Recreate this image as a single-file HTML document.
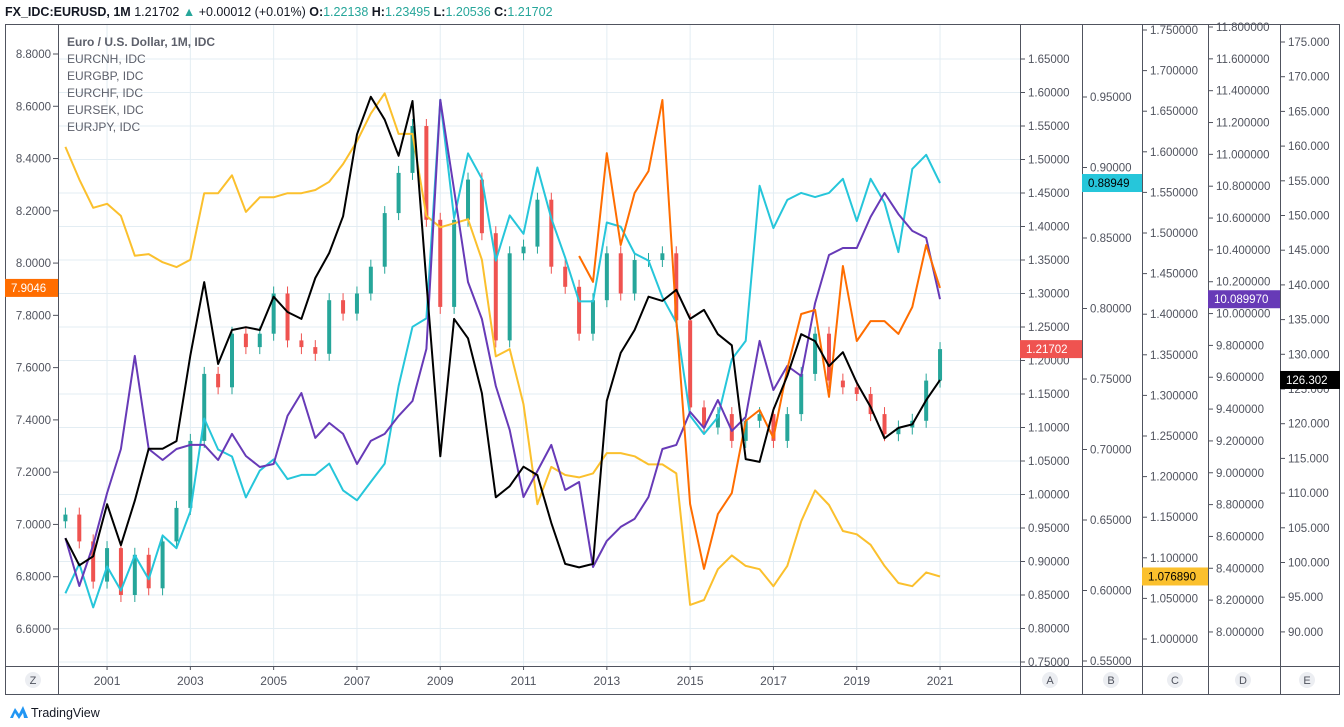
<!DOCTYPE html>
<html><head><meta charset="utf-8"><style>
html,body{margin:0;padding:0;background:#fff;width:1344px;height:727px;overflow:hidden}
svg{display:block;font-family:"Liberation Sans",Arial,sans-serif}
</style></head><body>
<svg id="chart" width="1344" height="727" viewBox="0 0 1344 727">
<text x="5" y="16" font-size="12.5" fill="#131722"><tspan font-weight="bold">FX_IDC:EURUSD, 1M</tspan> 1.21702 <tspan fill="#26a69a">▲</tspan> +0.00012 (+0.01%) <tspan font-weight="bold">O:</tspan><tspan fill="#26a69a">1.22138</tspan> <tspan font-weight="bold">H:</tspan><tspan fill="#26a69a">1.23495</tspan> <tspan font-weight="bold">L:</tspan><tspan fill="#26a69a">1.20536</tspan> <tspan font-weight="bold">C:</tspan><tspan fill="#26a69a">1.21702</tspan></text>
<g id="grid"></g>
<g id="series" clip-path="url(#plotclip)"></g>
<defs><clipPath id="plotclip"><rect x="58" y="24" width="962" height="642"/></clipPath></defs>
<g id="frame" fill="none" stroke="#50535e" stroke-width="1">
<rect x="5.5" y="24.5" width="1334" height="670"/>
<line x1="58.5" y1="24" x2="58.5" y2="694"/>
<line x1="1020.5" y1="24" x2="1020.5" y2="694"/>
<line x1="1082.5" y1="24" x2="1082.5" y2="694"/>
<line x1="1142.5" y1="24" x2="1142.5" y2="694"/>
<line x1="1208.5" y1="24" x2="1208.5" y2="694"/>
<line x1="1280.5" y1="24" x2="1280.5" y2="694"/>
<line x1="5" y1="666.5" x2="1340" y2="666.5"/>
</g>
<g id="axes"></g>
<g font-size="12" fill="#5d606b">
<text x="67" y="46" font-weight="bold">Euro / U.S. Dollar, 1M, IDC</text>
<text x="67" y="63">EURCNH, IDC</text>
<text x="67" y="80">EURGBP, IDC</text>
<text x="67" y="97">EURCHF, IDC</text>
<text x="67" y="114">EURSEK, IDC</text>
<text x="67" y="131">EURJPY, IDC</text>
</g>
<g>
<path d="M10 718 L15 708 L19 714 L23 706 L28 718 L24 718 L23 713 L19 719 L15 713 L13 718Z" fill="#2196f3"/>
<text x="31" y="717" font-size="12.5" fill="#131722">TradingView</text>
</g>
</svg>
<script>
const startYear = 2000;
const stepYears = 1/3;
const eurusdClose = [0.97,0.93,0.87, 0.92,0.85,0.91, 0.86,0.93,0.98, 1.08,1.18,1.16, 1.24,1.22,1.24, 1.30,1.23,1.22, 1.21,1.29,1.27, 1.30,1.34,1.42, 1.48,1.55,1.41, 1.28,1.41,1.47, 1.39,1.23,1.36, 1.37,1.44,1.34, 1.31,1.24,1.29, 1.36,1.30,1.35, 1.35,1.36,1.26, 1.13,1.10,1.12, 1.08,1.11,1.12, 1.08,1.12,1.18, 1.24,1.17,1.16, 1.15,1.12,1.09, 1.10,1.11,1.17, 1.217];
const eurchf = [1.606,1.566,1.531,1.536,1.521,1.472,1.474,1.464,1.458,1.467,1.549,1.549,1.571,1.526,1.544,1.544,1.549,1.549,1.553,1.563,1.585,1.613,1.647,1.672,1.622,1.622,1.521,1.507,1.512,1.517,1.467,1.348,1.357,1.289,1.166,1.212,1.202,1.199,1.204,1.229,1.229,1.225,1.215,1.215,1.204,1.042,1.048,1.086,1.103,1.090,1.086,1.065,1.090,1.145,1.183,1.165,1.133,1.129,1.116,1.090,1.069,1.065,1.082,1.077];
const eurjpy = [103.5,99.6,100.9,108.4,102.5,108.9,116.4,116.4,117.5,129.8,140.4,128.6,133.5,133.9,133.5,138.3,136.1,135.1,141.0,144.6,149.9,161.7,167.1,163.8,158.6,166.5,140.4,115.3,135.1,132.3,124.4,109.4,111.0,113.8,112.6,105.7,99.8,99.3,99.8,123.3,130.2,133.5,138.3,137.7,139.3,135.1,136.4,132.9,131.3,114.9,114.5,122.0,126.9,132.9,131.9,128.3,130.3,125.9,122.4,117.9,119.4,119.9,123.4,126.3];
const eursek = [8.590,8.289,8.546,8.873,9.149,9.734,9.149,9.080,9.149,9.175,9.175,9.080,9.244,9.105,9.036,9.055,9.357,9.501,9.219,9.313,9.244,9.055,9.200,9.244,9.357,9.451,9.778,11.342,10.776,10.198,9.966,9.545,9.269,8.848,9.011,9.175,8.892,8.942,8.408,8.572,8.660,8.710,8.848,9.149,9.175,9.382,9.281,9.457,9.263,9.350,9.828,9.520,9.671,9.608,10.066,10.368,10.412,10.412,10.607,10.757,10.625,10.519,10.475,10.090];
const eurgbp = [0.598,0.619,0.588,0.617,0.600,0.625,0.608,0.639,0.630,0.656,0.722,0.700,0.695,0.666,0.685,0.693,0.679,0.682,0.682,0.690,0.671,0.664,0.677,0.690,0.745,0.787,0.793,0.948,0.864,0.910,0.892,0.834,0.866,0.853,0.900,0.864,0.836,0.805,0.805,0.861,0.858,0.839,0.834,0.808,0.790,0.724,0.711,0.723,0.764,0.777,0.887,0.857,0.877,0.882,0.879,0.882,0.892,0.862,0.892,0.875,0.840,0.899,0.909,0.889];
const eurcnhStartIndex = 37;
const eurcnh = [8.027,7.928,8.421,8.069,8.268,8.352,8.624,7.786,7.078,6.830,7.040,7.120,7.396,7.438,7.331,7.595,7.805,7.821,7.488,7.989,7.702,7.778,7.778,7.729,7.832,8.069,7.905];
const yearLabels = [2001,2003,2005,2007,2009,2011,2013,2015,2017,2019,2021];
const leftTicks = [8.8,8.6,8.4,8.2,8.0,7.8,7.6,7.4,7.2,7.0,6.8,6.6];
const aTicks = [1.65,1.60,1.55,1.50,1.45,1.40,1.35,1.30,1.25,1.20,1.15,1.10,1.05,1.00,0.95,0.90,0.85,0.80,0.75];
const bTicks = [0.95,0.90,0.85,0.80,0.75,0.70,0.65,0.60,0.55];
const cTicks = [1.75,1.70,1.65,1.60,1.55,1.50,1.45,1.40,1.35,1.30,1.25,1.20,1.15,1.10,1.05,1.00];
const dTicks = [11.8,11.6,11.4,11.2,11.0,10.8,10.6,10.4,10.2,10.0,9.8,9.6,9.4,9.2,9.0,8.8,8.6,8.4,8.2,8.0];
const eTicks = [175,170,165,160,155,150,145,140,135,130,125,120,115,110,105,100,95,90];

const xYear = t => 65.4 + (t - startYear) * 41.65;
const xIdx = i => xYear(startYear + i * stepYears);
const yL = v => 54 + (8.8 - v) / 0.2 * 52.27;
const yA = v => 59 + (1.65 - v) / 0.05 * 33.5;
const yB = v => 97 + (0.95 - v) / 0.05 * 70.5;
const yC = v => 30 + (1.75 - v) / 0.05 * 40.6;
const yD = v => 27 + (11.8 - v) / 0.2 * 31.84;
const yE = v => 42 + (175 - v) / 5 * 34.7;

const NS = "http://www.w3.org/2000/svg";
function mk(tag, parent, attrs){ const e=document.createElementNS(NS,tag); for(const k in attrs) e.setAttribute(k,attrs[k]); parent.appendChild(e); return e; }

const grid = document.getElementById('grid');
aTicks.forEach(v=>{ const l=mk('line',grid,{x1:58,x2:1020,y1:yA(v),y2:yA(v),stroke:'#e3edf3','stroke-width':1});
  
   });
yearLabels.forEach(y=>{ const l=mk('line',grid,{x1:xYear(y),x2:xYear(y),y1:24,y2:666,stroke:'#e3edf3','stroke-width':1});
  
   });

const series = document.getElementById('series');
const upC='#26a69a', dnC='#ef5350';
for(let i=0;i<eurusdClose.length;i++){
  const c=eurusdClose[i], o=i>0?eurusdClose[i-1]:c-0.01;
  const x=xIdx(i), col=c>=o?upC:dnC;
  const yt=yA(Math.max(o,c)), yb=yA(Math.min(o,c));
  const w=mk('line',series,{x1:x,x2:x,y1:yt-7,y2:yb+7,stroke:col,'stroke-width':1});
  
  
  const b=mk('rect',series,{x:x-2,y:yt,width:4,height:Math.max(1,yb-yt),fill:col});
  
  
}
function line(arr, ys, col, name, start){
  start=start||0;
  const pts=arr.map((v,k)=>xIdx(start+k).toFixed(1)+','+ys(v).toFixed(1)).join(' ');
  const p=mk('polyline',series,{points:pts,fill:'none',stroke:col,'stroke-width':2,'stroke-linejoin':'round'});
  
  
}
line(eurchf,yC,'#fbc02d','eurchf-line');
line(eurgbp,yB,'#26c6da','eurgbp-line');
line(eursek,yD,'#673ab7','eursek-line');
line(eurcnh,yL,'#ff6d00','eurcnh-line',eurcnhStartIndex);
line(eurjpy,yE,'#000000','eurjpy-line');

const axes=document.getElementById('axes');
function axisLabels(ticks, ys, x0, dec, name){
  ticks.forEach(v=>{
    const y=ys(v);
    if(y<26||y>664) return;
    mk('line',axes,{x1:x0,x2:x0+4,y1:y,y2:y,stroke:'#50535e'});
    const t=mk('text',axes,{x:x0+7,y:y+4,'font-size':'11.5',fill:'#50535e'});
    t.textContent=v.toFixed(dec);
    
    
  });
}
leftTicks.forEach(v=>{
  const y=yL(v);
  mk('line',axes,{x1:53,x2:58,y1:y,y2:y,stroke:'#50535e'});
  const t=mk('text',axes,{x:51,y:y+4,'font-size':'11.5',fill:'#50535e','text-anchor':'end'});
  t.textContent=v.toFixed(4);
  
  
});
axisLabels(aTicks,yA,1021,5,'axis-a-label');
axisLabels(bTicks,yB,1083,5,'axis-b-label');
axisLabels(cTicks,yC,1143,6,'axis-c-label');
axisLabels(dTicks,yD,1209,6,'axis-d-label');
axisLabels(eTicks,yE,1281,3,'axis-e-label');
yearLabels.forEach(y=>{
  const x=xYear(y);
  mk('line',axes,{x1:x,x2:x,y1:666,y2:670,stroke:'#50535e'});
  const t=mk('text',axes,{x:x,y:685,'font-size':'12','text-anchor':'middle',fill:'#50535e'});
  t.textContent=y;
  
  
});
[['Z',33],['A',1050],['B',1111],['C',1175],['D',1243],['E',1307]].forEach(([s,x])=>{
  const g=mk('g',axes,{});
  
  
  mk('circle',g,{cx:x,cy:680,r:8,fill:'#eceef2'});
  const t=mk('text',g,{x:x,y:684,'font-size':'11','text-anchor':'middle',fill:'#50535e'}); t.textContent=s;
});
function tag(x,w,val,ys,bg,fg,text,name){
  const y=ys(val);
  const g=mk('g',axes,{});
  
  
  mk('rect',g,{x:x,y:y-9,width:w,height:18,fill:bg});
  const t=mk('text',g,{x:x+6,y:y+4,'font-size':'11.5',fill:fg}); t.textContent=text;
}
tag(5,53,eurcnh[eurcnh.length-1],yL,'#ff6d00','#fff','7.9046','eurcnh-price-tag');
tag(1020,62,eurusdClose[eurusdClose.length-1],yA,'#ef5350','#fff','1.21702','eurusd-price-tag');
tag(1082,60,eurgbp[eurgbp.length-1],yB,'#26c6da','#000','0.88949','eurgbp-price-tag');
tag(1142,66,eurchf[eurchf.length-1],yC,'#fbc02d','#000','1.076890','eurchf-price-tag');
tag(1208,72,eursek[eursek.length-1],yD,'#673ab7','#fff','10.089970','eursek-price-tag');
tag(1280,60,eurjpy[eurjpy.length-1],yE,'#000000','#fff','126.302','eurjpy-price-tag');
</script>
</body></html>
